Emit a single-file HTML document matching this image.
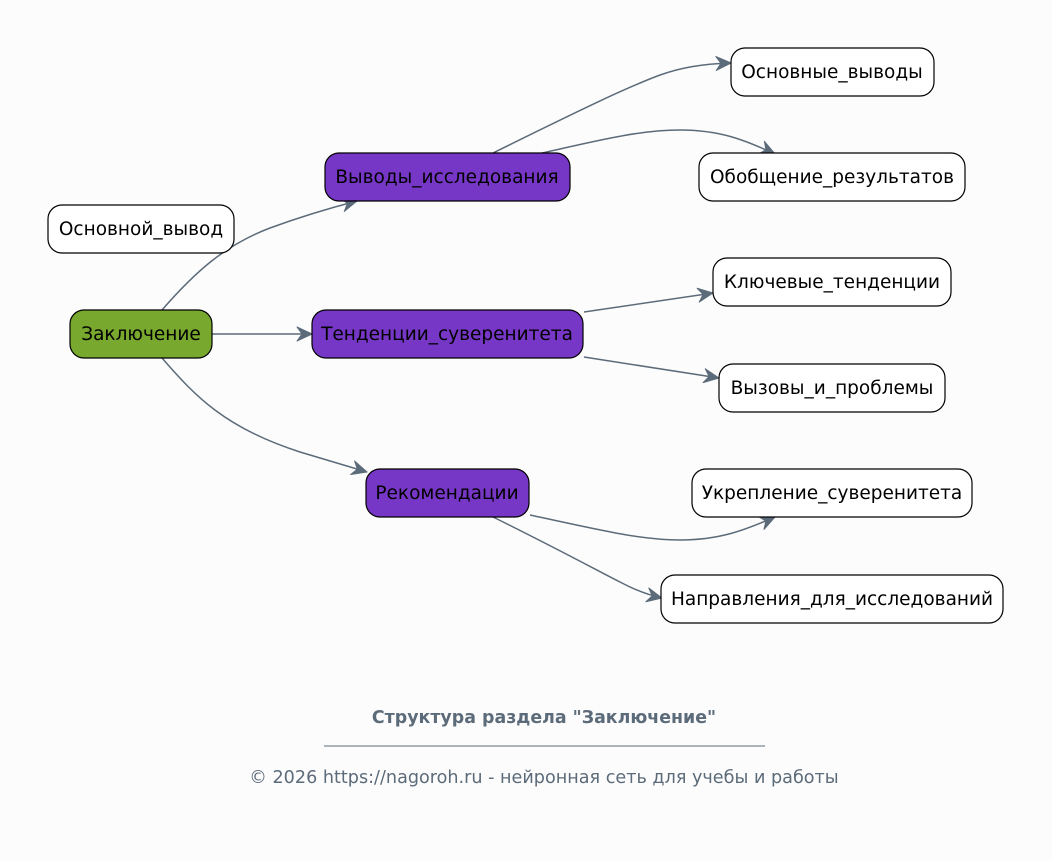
<!DOCTYPE html>
<html><head><meta charset="utf-8"><style>
html,body{margin:0;padding:0;background:#fcfcfc;}
svg{display:block;font-family:"DejaVu Sans","Liberation Sans",sans-serif;}
</style></head><body>
<svg width="1052" height="861" viewBox="0 0 1052 861" xmlns="http://www.w3.org/2000/svg">
<defs>
<marker id="a" viewBox="0 0 20 20" refX="18" refY="10" markerWidth="20" markerHeight="20" markerUnits="userSpaceOnUse" orient="auto">
<path d="M3,3 L18,10 L3,17 L8,10 Z" fill="#5c6b7a" stroke="#5c6b7a" stroke-width="1" stroke-linejoin="round"/>
</marker>
</defs>
<rect width="1052" height="861" fill="#fcfcfc"/>
<g fill="none" stroke="#5c6b7a" stroke-width="1.5" marker-end="url(#a)">
<path d="M162,310 C195,272 225,245 270,228 C300,217 330,208 357,201"/>
<path d="M212,334 L312,334"/>
<path d="M162,358 C195,396 225,428 300,452 C330,461 350,467 367,472"/>
<path d="M493,153 C560,120 620,90 660,75 C680,68 700,64 731,63"/>
<path d="M542,153 C600,140 640,130 680,130 C720,130 745,140 775,154"/>
<path d="M584,312 L713,293"/>
<path d="M584,357 L719,378"/>
<path d="M530,515 C600,530 640,540 680,540 C720,540 745,530 775,517"/>
<path d="M493,517 C560,550 600,572 620,582 C635,590 648,595 662,598"/>
</g>
<g stroke="#000" stroke-width="1.2">
<rect x="48" y="205" width="186" height="48" rx="14" fill="#fff"/>
<rect x="70" y="310" width="142" height="48" rx="14" fill="#78a82e"/>
<rect x="325" y="153" width="245" height="48" rx="14" fill="#7737c6"/>
<rect x="312" y="310" width="271" height="48" rx="14" fill="#7737c6"/>
<rect x="366" y="469" width="163" height="48" rx="14" fill="#7737c6"/>
<rect x="731" y="48" width="203" height="48" rx="14" fill="#fff"/>
<rect x="699" y="153" width="266" height="48" rx="14" fill="#fff"/>
<rect x="713" y="258" width="238" height="48" rx="14" fill="#fff"/>
<rect x="719" y="364" width="226" height="48" rx="14" fill="#fff"/>
<rect x="692" y="469" width="280" height="48" rx="14" fill="#fff"/>
<rect x="661" y="575" width="342" height="48" rx="14" fill="#fff"/>
</g>
<g font-size="18.5" fill="#000" text-anchor="middle">
<text x="141" y="235">Основной_вывод</text>
<text x="141" y="340">Заключение</text>
<text x="447" y="183">Выводы_исследования</text>
<text x="447" y="340">Тенденции_суверенитета</text>
<text x="447" y="499">Рекомендации</text>
<text x="832" y="78">Основные_выводы</text>
<text x="832" y="183">Обобщение_результатов</text>
<text x="832" y="288">Ключевые_тенденции</text>
<text x="832" y="394">Вызовы_и_проблемы</text>
<text x="832" y="499">Укрепление_суверенитета</text>
<text x="832" y="605">Направления_для_исследований</text>
</g>
<text x="544" y="723" font-size="17.4" font-weight="bold" fill="#5c6b7a" text-anchor="middle">Структура раздела "Заключение"</text>
<line x1="324" y1="746" x2="765" y2="746" stroke="#5c6b7a" stroke-width="1"/>
<text x="544" y="783" font-size="17.6" fill="#5c6b7a" text-anchor="middle">© 2026 https://nagoroh.ru - нейронная сеть для учебы и работы</text>
</svg>
</body></html>
